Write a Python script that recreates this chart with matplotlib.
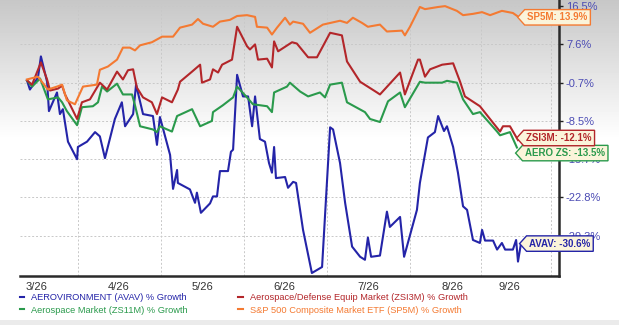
import numpy as np
import matplotlib
matplotlib.use("Agg")
import matplotlib.pyplot as plt
from matplotlib.lines import Line2D
from matplotlib.path import Path

plt.rcParams['font.family'] = ['Liberation Sans', 'DejaVu Sans']

# x = days from the first data point, y = % growth
avav_x = [0, 1.1, 4.1, 5.2, 7.5, 8.2, 11.2, 12.3, 13.4, 15.3, 18.7, 19.0, 22.4, 25.4, 27.2, 29.1,
          32.8, 35.4, 36.6, 39.6, 40.7, 43.3, 47.0, 48.5, 49.6, 53.4, 54.5, 56.0, 56.3, 60.8, 62.7,
          63.4, 64.9, 68.3, 69.4, 70.9, 72.0, 75.0, 76.1, 76.9, 78.4, 80.6, 82.5, 84.0, 85.1, 86.9,
          88.8, 90.3, 91.4, 92.2, 92.9, 96.3, 97.4, 99.3, 100.4, 103.0, 106.3, 110.1, 113.1, 114.2,
          116.8, 118.7, 121.3, 124.3, 126.1, 127.2, 128.4, 131.7, 132.8, 134.3, 135.4, 139.2, 140.7,
          145.5, 146.6, 149.6, 152.2, 153.4, 155.6, 156.7, 159.0, 160.8, 162.7, 164.2, 166.4, 169.0,
          169.8, 170.9, 173.9, 175.4, 177.2, 178.4, 181.3, 182.5, 183.2, 184.3]
avav_y = [-0.2, -2.1, 0.4, 5.0, -0.5, -6.5, -2.7, -7.1, -6.1, -12.4, -15.7, -13.4, -12.4, -10.6, -11.4, -15.5,
          -8.1, -4.7, -9.5, -7.1, -1.1, -7.1, -7.5, -13.0, -7.7, -14.9, -21.2, -17.7, -20.1, -21.3, -23.7,
          -21.9, -25.4, -23.8, -22.6, -22.6, -17.9, -17.9, -14.3, -13.9, 1.0, -3.5, -3.5, -9.5, -3.5, -11.9,
          -12.4, -16.4, -18.2, -13.4, -19.2, -19.0, -21.0, -19.9, -20.1, -28.3, -35.5, -34.5, -9.7, -10.1,
          -16.4, -23.7, -31.1, -32.8, -33.3, -29.6, -32.8, -32.6, -29.5, -25.2, -27.8, -26.1, -32.8,
          -24.9, -20.1, -11.6, -10.6, -7.5, -10.4, -9.5, -13.4, -18.2, -24.3, -24.9, -30.0, -30.5,
          -28.3, -30.1, -30.1, -31.6, -30.5, -31.6, -31.6, -30.0, -33.6, -30.6]

zsi3m_x = [0, 1.9, 5.2, 7.5, 8.6, 11.6, 13.1, 14.2, 18.7, 20.5, 23.5, 27.2, 29.9, 33.6, 35.8, 37.7,
           39.6, 41.0, 43.3, 46.6, 48.5, 50.4, 54.1, 56.3, 57.1, 61.6, 64.6, 65.3, 68.3, 69.4, 71.3,
           72.8, 76.5, 78.4, 82.1, 83.2, 85.1, 86.2, 89.6, 91.4, 92.2, 93.7, 98.9, 100.7, 104.9, 108.2,
           113.1, 117.5, 119.4, 124.3, 130.6, 131.7, 139.2, 141.0, 145.9, 146.6, 148.5, 150.4, 154.9,
           159.0, 161.6, 163.4, 169.0, 171.6, 176.5, 177.6, 180.2, 183.2]
zsi3m_y = [-0.2, -1.1, 3.7, 0.0, -2.3, -1.9, -1.3, -3.1, -8.1, -4.7, -4.1, -0.7, -2.1, 1.7, 0.0, 2.0,
           2.2, -1.7, -3.7, -4.7, -7.1, -3.7, -4.7, -2.1, -0.5, 1.7, 3.2, -0.7, 0.0, 2.2, 1.5,
           3.2, 4.3, 11.7, 7.2, 6.5, 7.6, 4.3, 4.5, 2.6, 8.3, 6.1, 8.1, 7.8, 4.8, 4.8,
           10.3, 9.7, 3.9, -0.5, -2.7, -3.1, 1.5, -3.1, 4.3, 4.3, 0.6, 2.2, 3.2,
           3.5, -0.5, -3.5, -5.5, -7.3, -10.5, -9.5, -9.5, -12.1]

zs11m_x = [0, 1.9, 4.9, 7.8, 11.6, 13.1, 14.9, 18.7, 20.5, 24.6, 26.5, 28.0, 29.9, 33.6, 35.8, 39.2,
           40.3, 42.2, 47.0, 48.5, 49.6, 54.1, 56.0, 61.6, 64.6, 69.0, 69.4, 73.1, 76.9, 78.4, 82.1,
           84.3, 89.6, 91.4, 92.2, 97.0, 98.1, 101.9, 104.9, 109.3, 111.2, 113.1, 117.5, 119.4, 126.1,
           128.0, 131.7, 134.7, 139.2, 141.0, 146.6, 148.5, 154.9, 156.7, 160.4, 162.7, 166.4, 169.0,
           175.4, 176.5, 180.2, 182.8]
zs11m_y = [-0.2, -1.5, 0.2, -4.1, -3.7, -4.7, -6.5, -9.3, -5.7, -5.5, -4.7, -1.5, -2.5, -0.9, -3.1, -3.1,
           -5.3, -9.5, -10.1, -10.6, -9.5, -10.5, -7.5, -6.1, -9.5, -8.5, -6.7, -5.3, -3.7, -1.5, -3.7,
           -5.1, -5.5, -6.7, -2.7, -1.5, -0.7, -2.5, -3.5, -2.7, -3.7, -1.1, -0.7, -4.7, -6.7,
           -8.1, -8.7, -4.5, -2.7, -5.7, -0.5, -0.7, -0.7, -0.3, -0.7, -4.1, -7.1, -6.7,
           -10.5, -11.2, -10.6, -13.5]

sp5m_x = [0, 4.1, 7.8, 11.2, 13.1, 14.9, 17.9, 20.9, 26.1, 27.2, 30.2, 33.6, 35.8, 38.4, 40.3, 42.2,
          46.6, 50.4, 54.5, 57.1, 61.6, 63.8, 65.7, 69.4, 72.0, 75.7, 78.4, 82.1, 85.1, 85.8, 89.6,
          91.4, 93.3, 96.3, 98.1, 99.3, 103.0, 105.6, 110.4, 116.8, 119.4, 121.6, 125.0, 127.2, 131.7,
          134.3, 139.9, 141.0, 142.9, 146.6, 148.5, 153.4, 156.0, 160.4, 162.7, 166.4, 169.8, 172.8,
          177.2, 181.3, 183.6]
sp5m_y = [0.0, 0.6, -2.1, -1.5, -1.1, -4.3, -5.1, -1.5, -1.1, 2.1, 2.8, 4.3, 6.9, 6.9, 6.3, 7.4,
          8.1, 9.4, 9.4, 11.5, 12.2, 13.5, 12.4, 11.7, 12.9, 13.3, 14.2, 14.4, 14.0, 11.7, 11.5,
          9.9, 11.5, 13.8, 12.2, 12.9, 12.4, 10.3, 12.2, 13.1, 12.6, 13.8, 12.6, 11.7, 12.2,
          10.6, 10.8, 9.7, 11.7, 16.3, 15.8, 16.3, 16.5, 15.4, 14.4, 14.7, 15.1, 14.4,
          15.4, 14.9, 13.9]

ytick_vals = [-29.3, -22.8, -15.7, -8.5, -0.7, 7.6, 16.5]
xtick_pos = [3.7, 34.3, 65.3, 95.9, 127.2, 158.6, 179.9]
xtick_labels = ['3/26', '4/26', '5/26', '6/26', '7/26', '8/26', '9/26']
xgrid_pos = [19.0, 50.0, 81.0, 111.9, 142.9, 169.4, 195.5]

# name, x, y, colour, end tag, vertical nudge of the tag (points)
series = [
    ('AEROVIRONMENT (AVAV) % Growth', avav_x, avav_y, '#2424a8', 'AVAV: -30.6%', 0),
    ('Aerospace Market (ZS11M) % Growth', zs11m_x, zs11m_y, '#2a9a4c', 'AERO ZS: -13.5%', -4),
    ('Aerospace/Defense Equip Market (ZSI3M) % Growth', zsi3m_x, zsi3m_y, '#b3262a', 'ZSI3M: -12.1%', 1.5),
    ('S&P 500 Composite Market ETF (SP5M) % Growth', sp5m_x, sp5m_y, '#f47a32', 'SP5M: 13.9%', 0),
]

# the y axis is evenly spaced between the labelled levels
_anchor_v = [-39.5] + ytick_vals + [20.0]
_anchor_p = [-1.6, 0, 1, 2, 3, 4, 5, 6, 6.4]


def fwd(v):
    return np.interp(v, _anchor_v, _anchor_p)


def inv(p):
    return np.interp(p, _anchor_p, _anchor_v)


def tag_box(x0, y0, width, height, mutation_size):
    pad = mutation_size * 0.28
    x0, y0 = x0 - pad, y0 - pad
    x1, y1 = x0 + width + 2 * pad, y0 + height + 2 * pad
    ym = (y0 + y1) / 2
    d = (y1 - y0) * 0.45
    return Path([(x0, y0), (x1, y0), (x1, y1), (x0, y1), (x0 - d, ym), (x0, y0)], closed=True)


fig = plt.figure(figsize=(6.19, 3.25), dpi=100)

# grey-to-white background
bg = fig.add_axes([0, 0, 1, 1], zorder=-10)
grad = np.ones((325, 1))
grad[:140, 0] = np.linspace(0.78, 1.0, 140)
grad[320:, 0] = 0.92
bg.imshow(grad, cmap='gray', vmin=0, vmax=1, aspect='auto', extent=[0, 1, 0, 1])
bg.axis('off')

ax = fig.add_axes([20 / 619, 1 - 276 / 325, 539 / 619, 276 / 325])
ax.set_facecolor('none')
ax.set_yscale('function', functions=(fwd, inv))

for label, xs, ys, col, tag, dy in series:
    ax.plot(xs, ys, color=col, lw=1.5, solid_joinstyle='round')

for label, xs, ys, col, tag, dy in series:
    ax.annotate(tag, (xs[-1], ys[-1]), xytext=(6, dy), textcoords='offset points',
                ha='left', va='center', fontsize=7, fontweight='bold', color=col,
                bbox=dict(boxstyle=tag_box, fc='#fbf4da', ec=col, lw=1),
                zorder=5, annotation_clip=False)

ax.set_xlim(-2.6, 198.5)
ax.set_ylim(-36.0, 17.9)

ax.yaxis.tick_right()
ax.set_yticks(ytick_vals)
ax.set_yticklabels(['%.1f%%' % v for v in ytick_vals])
ax.tick_params(axis='y', colors='#222222', labelcolor='#4b4bb4', labelsize=8, length=3, width=1, pad=2)
ax.yaxis.grid(True, color='#c8c8c8', ls=(0, (2, 2)), lw=0.7)

ax.set_xticks(xtick_pos)
ax.set_xticklabels(xtick_labels)
ax.set_xticks(xgrid_pos, minor=True)
ax.tick_params(axis='x', which='both', length=0, labelsize=8, labelcolor='#333333', pad=4)
ax.xaxis.grid(True, which='minor', color='#c8c8c8', ls=(0, (2, 2)), lw=0.7)
ax.xaxis.grid(False, which='major')

for s in ['left', 'top']:
    ax.spines[s].set_visible(False)
for s in ['bottom', 'right']:
    ax.spines[s].set_color('#2a2a2a')
    ax.spines[s].set_linewidth(1.8)

handles = [Line2D([], [], color=s[3], lw=1.5) for s in series]
labels = [s[0] for s in series]
fig.legend(handles, labels, loc='upper left', bbox_to_anchor=(0.024, 0.112), ncol=2,
           frameon=False, fontsize=6.7, handlelength=0.5, handletextpad=0.7,
           columnspacing=5.5, labelspacing=0.35, borderpad=0, labelcolor='linecolor')

fig.savefig('out.png', dpi=100)
